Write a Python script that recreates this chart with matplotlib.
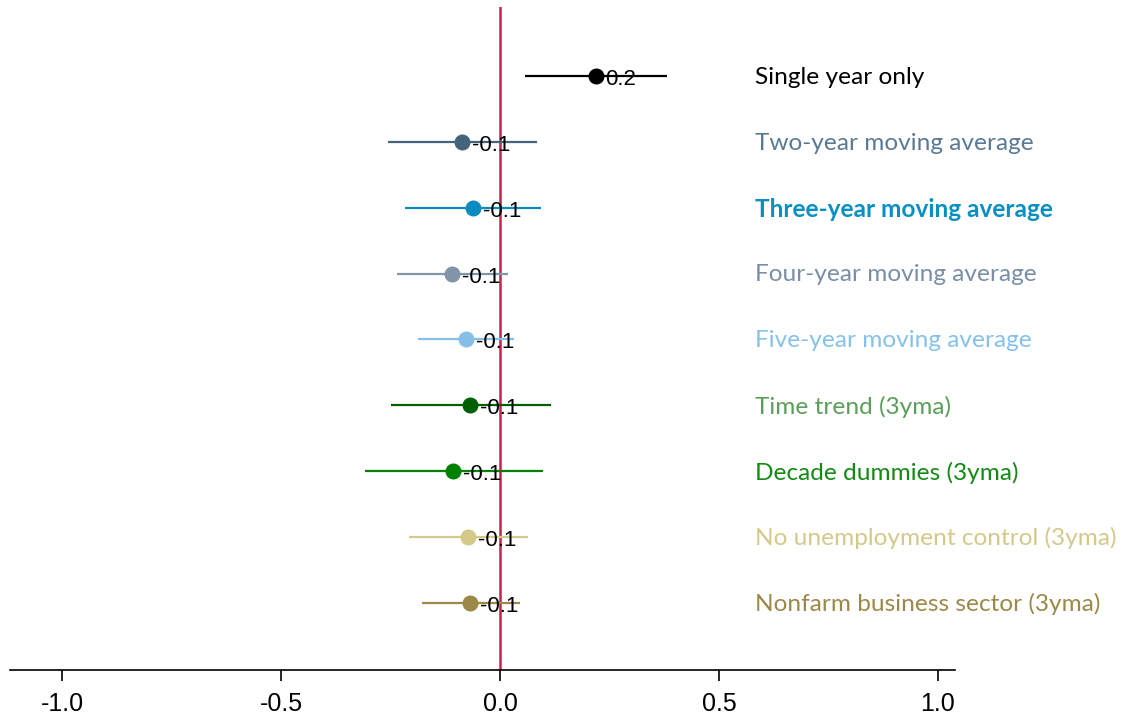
import matplotlib
matplotlib.use("Agg")
import matplotlib.pyplot as plt

# Coefficient estimates with confidence bounds, one row per specification
specs = ["Single year only",
         "Two-year moving average",
         "Three-year moving average",
         "Four-year moving average",
         "Five-year moving average",
         "Time trend (3yma)",
         "Decade dummies (3yma)",
         "No unemployment control (3yma)",
         "Nonfarm business sector (3yma)"]
estimates = [0.219, -0.087, -0.062, -0.110, -0.078, -0.068, -0.107, -0.073, -0.068]
lower = [0.057, -0.256, -0.217, -0.235, -0.187, -0.249, -0.308, -0.208, -0.178]
upper = [0.381, 0.084, 0.094, 0.018, 0.032, 0.116, 0.098, 0.064, 0.046]

mark_colors = ["#000000", "#44647c", "#0a8cc0", "#8294a8", "#86bfe6",
               "#006000", "#008000", "#d4c98a", "#9c8848"]
text_colors = ["#000000", "#5a7a94", "#0a8fc4", "#7a8ea6", "#86c1ea",
               "#5a9e5a", "#138a13", "#d4c98a", "#9c8848"]
bold_row = 2

xticks = [-1.0, -0.5, 0.0, 0.5, 1.0]

fig = plt.figure(figsize=(11.34, 7.21), dpi=100)
ax = fig.add_axes([0.0088, 0.0707, 0.8333, 0.9196])

n = len(specs)
for i, name in enumerate(specs):
    y = n - 1 - i
    ax.plot([lower[i], upper[i]], [y, y], color=mark_colors[i], lw=1.6,
            solid_capstyle="butt", zorder=2)
    ax.plot(estimates[i], y, "o", color=mark_colors[i], ms=10.5, zorder=3)
    ax.annotate(f"{estimates[i]:.1f}", (estimates[i], y), xytext=(7, -2.5),
                textcoords="offset points", ha="left", va="center",
                fontsize=16, family="Liberation Sans", color="black", zorder=4)
    ax.text(0.582, y - 0.02, name, ha="left", va="center", fontsize=17.6,
            family="Lato", color=text_colors[i],
            fontweight="bold" if i == bold_row else "normal")

ax.axvline(0, color="#d41c4c", lw=1.8, zorder=1)

ax.set_xlim(-1.119, 1.039)
ax.set_ylim(-1.02, 9.05)
ax.set_xticks(xticks)
ax.set_xticklabels([f"{t:.1f}" for t in xticks], family="Liberation Sans", fontsize=18)
ax.set_yticks([])
for side in ["top", "right", "left"]:
    ax.spines[side].set_visible(False)
ax.spines["bottom"].set_linewidth(1.2)
ax.tick_params(axis="x", length=8, width=1.2, pad=8)

fig.savefig("out.png", dpi=100)
